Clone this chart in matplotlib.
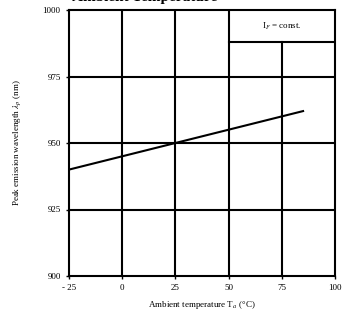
import matplotlib
matplotlib.use('Agg')
import matplotlib.pyplot as plt

plt.rcParams['font.family'] = ['Liberation Serif', 'DejaVu Serif']
plt.rcParams['mathtext.fontset'] = 'stix'

# data
temp = [-25, 85]
wavelength = [940, 962]
x_ticks = [-25, 0, 25, 50, 75, 100]
x_tick_labels = ['- 25', '0', '25', '50', '75', '100']
y_ticks = [900, 925, 950, 975, 1000]

fig = plt.figure(figsize=(3.45, 3.21), dpi=100)
ax = fig.add_axes([69 / 345, 45 / 321, 266 / 345, 266 / 321])

ax.set_xlim(-25, 100)
ax.set_ylim(900, 1000)

# grid lines (the one at 75 stops under the legend box)
for x in [0, 25, 50]:
    ax.axvline(x, color='black', lw=1.5)
ax.plot([75, 75], [900, 988], color='black', lw=1.5)
for y in [925, 950, 975]:
    ax.axhline(y, color='black', lw=1.5)

# legend box
ax.plot([50, 100], [988, 988], color='black', lw=1.5)
ax.text(75, 994, r'I$_F$ = const.', ha='center', va='center', fontsize=6.5)

ax.plot(temp, wavelength, color='black', lw=1.5)

for s in ax.spines.values():
    s.set_linewidth(1.5)

ax.set_xticks(x_ticks)
ax.set_xticklabels(x_tick_labels)
ax.set_yticks(y_ticks)
ax.tick_params(labelsize=6.5, length=2.5, width=1)

ax.set_xlabel(r'Ambient temperature T$_a$ (°C)', fontsize=6.5, labelpad=5)
ax.set_ylabel(r'Peak emission wavelength $\lambda_p$ (nm)', fontsize=6.5, labelpad=14)

# title is cut off by the top edge in the reference
fig.text(0.42, 1 - 1.5 / 321, 'Ambient Temperature', fontsize=11, fontweight='bold',
         ha='center', va='baseline')

fig.savefig('out.png', dpi=100)
